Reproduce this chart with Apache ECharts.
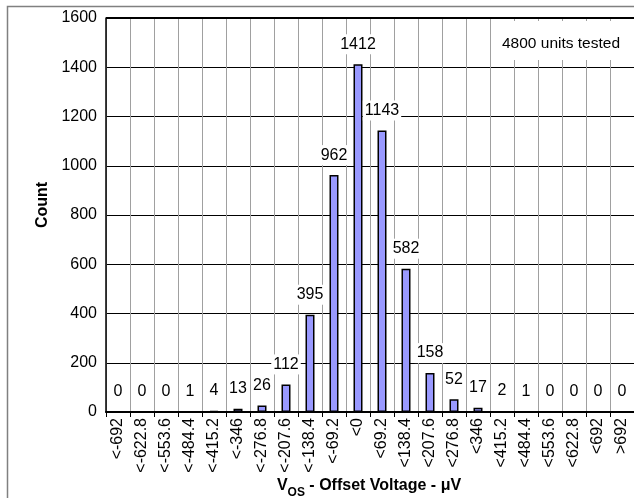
<!DOCTYPE html>
<html>
<head>
<meta charset="utf-8">
<script src="https://cdn.jsdelivr.net/npm/echarts@6/dist/echarts.min.js"></script>
<style>
html,body{margin:0;padding:0;background:#fff;}
#chart{width:634px;height:498px;}
</style>
</head>
<body>
<div id="chart"></div>
<script>
const categories = ['<-692','<-622.8','<-553.6','<-484.4','<-415.2','<-346','<-276.8','<-207.6','<-138.4','<-69.2','<0','<69.2','<138.4','<207.6','<276.8','<346','<415.2','<484.4','<553.6','<622.8','<692','>692'];
const counts = [0,0,0,1,4,13,26,112,395,962,1412,1143,582,158,52,17,2,1,0,0,0,0];
const yMin = 0, yMax = 1600, yStep = 200;
const noteText = '4800 units tested';
const yTitle = 'Count';

const FONT = "'Liberation Sans', Arial, sans-serif";
const chart = echarts.init(document.getElementById('chart'), null, {renderer:'canvas'});
chart.setOption({
  animation: false,
  backgroundColor: '#ffffff',
  grid: {left: 106, top: 18, width: 531, height: 394, containLabel: false},
  xAxis: {
    type: 'category',
    data: categories,
    boundaryGap: true,
    axisLine: {show: true, lineStyle: {color: '#000', width: 2}},
    axisTick: {show: true, length: 5, lineStyle: {color: '#000', width: 1}},
    axisLabel: {rotate: 90, margin: 6, color: '#000', fontSize: 16, fontFamily: FONT, interval: 0},
    splitLine: {show: true, interval: 0, lineStyle: {color: '#a0a0a0', width: 1}}
  },
  yAxis: {
    type: 'value',
    min: yMin, max: yMax, interval: yStep,
    axisLine: {show: true, lineStyle: {color: '#000', width: 1.5}},
    axisTick: {show: false},
    axisLabel: {margin: 9, color: '#000', fontSize: 16, fontFamily: FONT, formatter: v => String(v)},
    splitLine: {show: true, lineStyle: {color: '#000', width: 1}}
  },
  series: [{
    type: 'bar',
    data: counts,
    barWidth: 9,
    itemStyle: {color: '#9999ff', borderColor: '#000', borderWidth: 1.5},
    label: {
      show: true, position: 'top', distance: 10,
      color: '#000', fontSize: 16, fontFamily: FONT,
      backgroundColor: '#fff', padding: [2, 2, 2, 2]
    },
    z: 3
  }],
  graphic: [
    {type: 'rect', left: 5, top: 4, shape: {width: 640, height: 500}, style: {fill: 'none', stroke: '#808080', lineWidth: 1.5}, z: 1, silent: true},
    {type: 'line', shape: {x1: 106, y1: 18, x2: 637, y2: 18}, style: {stroke: '#000', lineWidth: 2}, z: 5, silent: true},
    {type: 'rect', shape: {x: 495, y: 21, width: 132, height: 39}, style: {fill: '#fff'}, z: 10},
    {type: 'text', style: {x: 561, y: 43.5, text: noteText, align: 'center', verticalAlign: 'middle', font: '15.5px ' + FONT, fill: '#000'}, z: 11},
    {type: 'text', x: 43, y: 205, rotation: Math.PI / 2, style: {x: 0, y: 0, text: yTitle, align: 'center', verticalAlign: 'middle', font: 'bold 16px ' + FONT, fill: '#000'}, z: 11},
    {type: 'text', style: {
      x: 369, y: 478, align: 'center', verticalAlign: 'top',
      text: '{v|V}{s|OS}{v| - Offset Voltage - μV}',
      rich: {
        v: {fontSize: 16, fontWeight: 'bold', fontFamily: FONT, fill: '#000', lineHeight: 17, verticalAlign: 'top'},
        s: {fontSize: 12, fontWeight: 'bold', fontFamily: FONT, fill: '#000', lineHeight: 12, padding: [9, 0, 0, 0], verticalAlign: 'top'}
      }
    }, z: 11}
  ]
});
</script>
</body>
</html>
